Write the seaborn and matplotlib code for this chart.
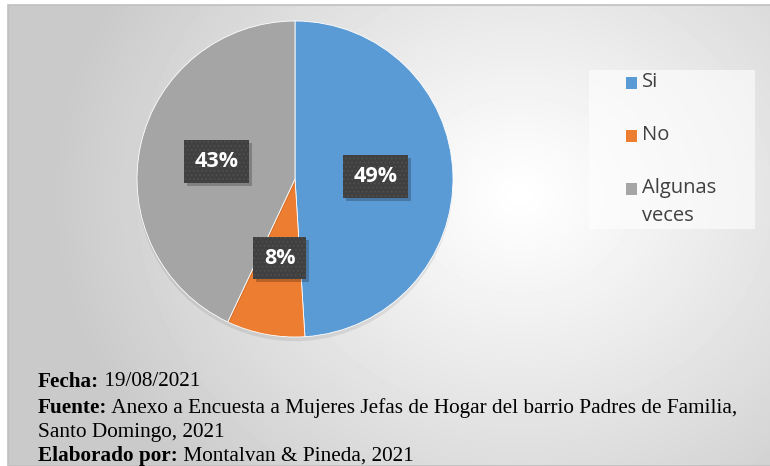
import numpy as np
import matplotlib
matplotlib.use("Agg")
import matplotlib.pyplot as plt
import matplotlib.patheffects as pe
import matplotlib.transforms as mtransforms
import seaborn as sns
from matplotlib.patches import Rectangle

# Data
categories = ["Si", "No", "Algunas veces"]
legend_labels = ["Si", "No", "Algunas\nveces"]
values = [49, 8, 43]
colors = ["#5b9bd5", "#ed7d31", "#a5a5a5"]

notes = [
    ("Fecha:", " 19/08/2021"),
    ("Fuente:", " Anexo a Encuesta a Mujeres Jefas de Hogar del barrio Padres de Familia,"),
    ("", "Santo Domingo, 2021"),
    ("Elaborado por:", " Montalvan & Pineda, 2021"),
]

sns.set_style("white")
plt.rcParams['font.family'] = ['Open Sans', 'DejaVu Sans']
plt.rcParams['hatch.linewidth'] = 0.7

W, H = 770, 466
fig = plt.figure(figsize=(W / 100, H / 100), dpi=100)
fig.patch.set_facecolor("white")

# Radial gradient background
bg = fig.add_axes([8 / W, 0, 1 - 8 / W, 1 - 5 / H])
bg.set_axis_off()
yy, xx = np.mgrid[0:H - 5, 8:W]
d = np.hypot(xx - 520, (yy - 190) * 1.15)
g = 1 - 0.21 * np.clip(d / 470, 0, 1) ** 1.1
bg.imshow(g, cmap="gray", vmin=0, vmax=1, aspect="auto", interpolation="bilinear")
fig.add_artist(Rectangle((8 / W, 0), 1, 1 - 5 / H, transform=fig.transFigure,
                         fill=False, edgecolor="#c0c0c0", lw=1.2))

# Pie
cx, cy, r = 295, 179, 158
ax = fig.add_axes([(cx - r) / W, (H - cy - r) / H, 2 * r / W, 2 * r / H])
wedges, texts, autotexts = ax.pie(
    values, colors=colors, startangle=90, counterclock=False,
    autopct=lambda p: f"{p:.0f}%", pctdistance=0.51,
    wedgeprops=dict(linewidth=0.6, edgecolor="white"),
    textprops=dict(color="white", fontsize=15.5, fontweight="bold", zorder=5))
for w in wedges:
    w.set_path_effects([pe.SimplePatchShadow(offset=(0, -3), shadow_rgbFace="black", alpha=0.08),
                        pe.Normal()])
for t in autotexts:
    t.set_bbox(dict(facecolor="#404040", edgecolor="#505050", linewidth=0,
                    hatch="....", boxstyle="square,pad=0.5"))
ax.set_xlim(-1, 1)
ax.set_ylim(-1, 1)
ax.set_axis_off()

# Legend (box + entries)
fig.add_artist(Rectangle((589 / W, 1 - 229 / H), (755 - 589) / W, (229 - 70) / H,
                         transform=fig.transFigure, facecolor="white", alpha=0.6,
                         edgecolor="none"))
leg_y = [83, 136, 189]
for lab, c, y in zip(legend_labels, colors, leg_y):
    fig.add_artist(Rectangle((626 / W, 1 - (y + 5.5) / H), 11 / W, 11 / H,
                             transform=fig.transFigure, facecolor=c, edgecolor="none"))
    fig.text(642 / W, 1 - (y - 11) / H, lab, fontsize=14.5, color="#404040",
             va="top", ha="left", linespacing=1.55)

fig.canvas.draw()
renderer = fig.canvas.get_renderer()

# Soft shadow behind each label box
for t in autotexts:
    bb = t.get_bbox_patch().get_window_extent(renderer)
    ax.add_patch(Rectangle((bb.x0 + 3, bb.y0 - 3), bb.width, bb.height,
                           transform=mtransforms.IdentityTransform(),
                           facecolor="black", alpha=0.22, edgecolor="none", zorder=4))

# Notes at the bottom
x0 = 38
line_y = [382, 408, 432, 456]
for (bold, rest), y in zip(notes, line_y):
    x = x0
    if bold:
        tb = fig.text(x / W, 1 - y / H, bold, fontsize=15.3, fontweight="bold",
                      family="Liberation Serif", va="center", color="black")
        x += tb.get_window_extent(renderer).width
    fig.text(x / W, 1 - y / H, rest, fontsize=15.3, family="Liberation Serif",
             va="center", color="black")

fig.savefig("out.png", dpi=100)
